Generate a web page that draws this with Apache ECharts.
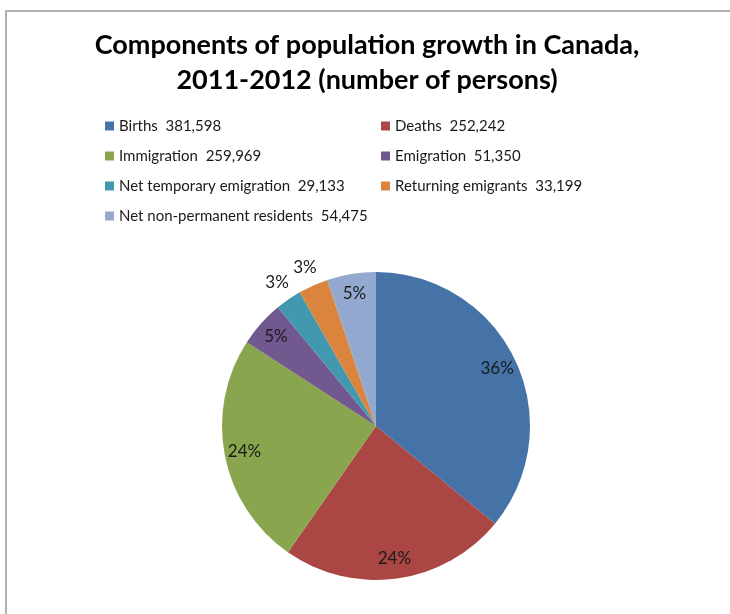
<!DOCTYPE html>
<html>
<head>
<meta charset="utf-8">
<script src="https://cdn.jsdelivr.net/npm/echarts@6/dist/echarts.min.js"></script>
<style>
html,body{margin:0;padding:0;background:#fff;}
#chart{width:730px;height:614px;}
</style>
</head>
<body>
<div id="chart"></div>
<script>
// Data
const categories = [
  'Births',
  'Deaths',
  'Immigration',
  'Emigration',
  'Net temporary emigration',
  'Returning emigrants',
  'Net non-permanent residents'
];
const values = [381598, 252242, 259969, 51350, 29133, 33199, 54475];
const colors = ['#4572A7', '#AA4643', '#89A54E', '#71588F', '#4198AF', '#DB843D', '#93A9CF'];
const legendLeftColumn = ['Births', 'Immigration', 'Net temporary emigration', 'Net non-permanent residents'];
const legendRightColumn = ['Deaths', 'Emigration', 'Returning emigrants'];
const titleText = 'Components of population growth in Canada,\n2011-2012 (number of persons)';

const total = values.reduce((a, b) => a + b, 0);
const isSmall = v => v / total < 0.04;
const fmt = n => n.toLocaleString('en-US');
const valueByName = {};
categories.forEach((c, i) => { valueByName[c] = values[i]; });

const FONT = 'Lato, "Open Sans", sans-serif';
const CENTER = [376, 426];
const R = 154;

const baseData = categories.map((c, i) => ({ name: c, value: values[i], itemStyle: { color: colors[i] } }));
const innerLabelData = categories.map((c, i) => ({
  name: c, value: values[i],
  label: { show: !isSmall(values[i]) }
}));
const outerLabelData = categories.map((c, i) => ({
  name: c, value: values[i],
  label: { show: isSmall(values[i]) }
}));

const labelStyle = {
  position: 'inside',
  formatter: '{d}%',
  color: '#1a1a1a',
  fontFamily: FONT,
  fontSize: 17
};
const transparentItem = { color: 'rgba(0,0,0,0)', borderWidth: 0 };

const legendCommon = {
  orient: 'vertical',
  top: 117,
  padding: 0,
  itemWidth: 9,
  itemHeight: 9,
  itemGap: 12,
  icon: 'rect',
  selectedMode: false,
  textStyle: { fontFamily: FONT, fontSize: 15, lineHeight: 18, color: '#1a1a1a' },
  formatter: name => name + '  ' + fmt(valueByName[name])
};

const chart = echarts.init(document.getElementById('chart'), null, { renderer: 'canvas' });
chart.setOption({
  animation: false,
  backgroundColor: '#fff',
  color: colors,
  title: {
    text: titleText,
    left: 362,
    textAlign: 'center',
    top: 23,
    textStyle: { fontFamily: FONT, fontWeight: 'bold', fontSize: 27, lineHeight: 35, color: '#000' }
  },
  legend: [
    Object.assign({}, legendCommon, { left: 105, data: legendLeftColumn }),
    Object.assign({}, legendCommon, { left: 381, data: legendRightColumn })
  ],
  graphic: [{
    type: 'rect',
    silent: true,
    shape: { x: 6, y: 11, width: 800, height: 700 },
    style: { fill: 'none', stroke: '#b0b0b0', lineWidth: 2 }
  }],
  series: [
    {
      type: 'pie',
      center: CENTER,
      radius: [0, R],
      startAngle: 90,
      clockwise: true,
      percentPrecision: 0,
      label: { show: false },
      labelLine: { show: false },
      itemStyle: { borderWidth: 0 },
      emphasis: { disabled: true },
      data: baseData
    },
    {
      type: 'pie',
      center: CENTER,
      radius: [108, R],
      startAngle: 90,
      clockwise: true,
      percentPrecision: 0,
      silent: true,
      label: labelStyle,
      labelLine: { show: false },
      itemStyle: transparentItem,
      emphasis: { disabled: true },
      data: innerLabelData
    },
    {
      type: 'pie',
      center: CENTER,
      radius: [R, R + 34],
      startAngle: 90,
      clockwise: true,
      percentPrecision: 0,
      silent: true,
      label: labelStyle,
      labelLine: { show: false },
      itemStyle: transparentItem,
      emphasis: { disabled: true },
      data: outerLabelData
    }
  ]
});
</script>
</body>
</html>
